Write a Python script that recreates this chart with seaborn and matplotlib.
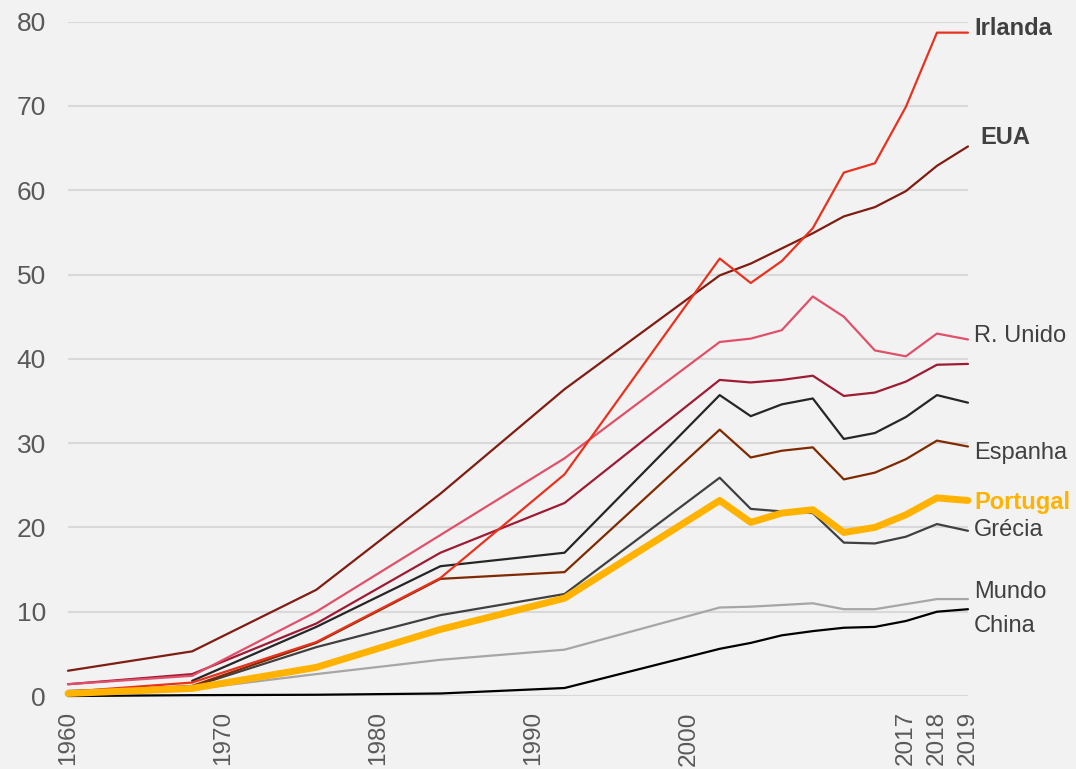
import matplotlib.pyplot as plt
import pandas as pd
import seaborn as sns

# Category axis: every 2 years up to 2012, then the last three years
axis_years = list(range(1960, 2001, 2)) + list(range(2002, 2013, 2)) + [2017, 2018, 2019]
tick_years = [1960, 1970, 1980, 1990, 2000, 2017, 2018, 2019]

# Years that carry data points
years = [1960, 1968, 1976, 1984, 1992, 2002, 2004, 2006, 2008, 2010, 2012, 2017, 2018, 2019]

irlanda = [0.5, 1.6, 6.4, 14.0, 26.3, 51.9, 49.0, 51.6, 55.5, 62.1, 63.2, 69.9, 78.7, 78.7]
eua = [3.0, 5.3, 12.6, 24.0, 36.4, 49.9, 51.3, 53.1, 54.9, 56.9, 58.0, 59.9, 62.9, 65.2]
r_unido = [1.4, 2.4, 10.0, 19.1, 28.2, 42.0, 42.4, 43.4, 47.4, 45.0, 41.0, 40.3, 43.0, 42.3]
pais_a = [1.4, 2.6, 8.6, 17.0, 22.9, 37.5, 37.2, 37.5, 38.0, 35.6, 36.0, 37.3, 39.3, 39.4]
pais_b = [None, 1.8, 8.2, 15.4, 17.0, 35.7, 33.2, 34.6, 35.3, 30.5, 31.2, 33.1, 35.7, 34.8]
espanha = [0.4, 1.2, 6.3, 13.9, 14.7, 31.6, 28.3, 29.1, 29.5, 25.7, 26.5, 28.1, 30.3, 29.6]
grecia = [0.6, 1.1, 5.8, 9.6, 12.1, 25.9, 22.2, 21.9, 21.7, 18.2, 18.1, 18.9, 20.4, 19.6]
mundo = [0.4, 0.8, 2.6, 4.3, 5.5, 10.5, 10.6, 10.8, 11.0, 10.3, 10.3, 10.9, 11.5, 11.5]
china = [0.0, 0.1, 0.15, 0.3, 0.95, 5.6, 6.3, 7.2, 7.7, 8.1, 8.2, 8.9, 10.0, 10.3]
portugal = [0.3, 0.9, 3.4, 7.9, 11.6, 23.2, 20.6, 21.7, 22.1, 19.4, 20.0, 21.5, 23.5, 23.2]

series = {
    'Mundo': mundo, 'China': china, 'Grécia': grecia, 'Espanha': espanha,
    'País B': pais_b, 'País A': pais_a, 'R. Unido': r_unido, 'EUA': eua,
    'Irlanda': irlanda, 'Portugal': portugal,
}
colors = {
    'Irlanda': '#E8321E', 'EUA': '#7F1D12', 'R. Unido': '#E0506A', 'País A': '#9E1B34',
    'País B': '#262626', 'Espanha': '#7F2A00', 'Portugal': '#FFB300', 'Grécia': '#404040',
    'Mundo': '#A6A6A6', 'China': '#000000',
}

df = pd.DataFrame(series, index=years)
df['slot'] = [axis_years.index(y) for y in years]

sns.set_style('white', {'axes.facecolor': '#F2F2F2', 'figure.facecolor': '#F2F2F2'})
plt.rcParams['font.family'] = ['Liberation Sans', 'DejaVu Sans']

fig, ax = plt.subplots(figsize=(10.76, 7.69), dpi=100)
fig.subplots_adjust(left=0.0632, right=0.8996, top=0.9718, bottom=0.0949)

for name in series:
    lw = 5 if name == 'Portugal' else 1.6
    sns.lineplot(x=df['slot'], y=df[name], ax=ax, color=colors[name],
                 linewidth=lw, zorder=3, clip_on=False)

# End labels (text, y position in data units, x position, bold, colour)
labels = [
    ('Irlanda', 79.2, 29.2, True, '#404040'),
    ('EUA', 66.3, 29.4, True, '#404040'),
    ('R. Unido', 42.7, 29.2, False, '#404040'),
    ('Espanha', 28.8, 29.2, False, '#404040'),
    ('Portugal', 23.0, 29.2, True, '#FFB300'),
    ('Grécia', 19.7, 29.2, False, '#404040'),
    ('Mundo', 12.3, 29.2, False, '#404040'),
    ('China', 8.3, 29.2, False, '#404040'),
]
for text, ypos, xpos, bold, col in labels:
    ax.text(xpos, ypos, text, ha='left', va='center', fontsize=17,
            fontweight='bold' if bold else 'normal', color=col, clip_on=False)

ax.set_xlim(0, len(axis_years) - 1)
ax.set_ylim(0, 80)
ax.set_yticks(range(0, 81, 10))
ax.set_xticks([axis_years.index(y) for y in tick_years])
ax.set_xticklabels([str(y) for y in tick_years], rotation=90)
ax.tick_params(axis='both', colors='#595959', length=0)
ax.tick_params(axis='y', labelsize=19, pad=16)
ax.tick_params(axis='x', labelsize=17.5, pad=11)
ax.grid(axis='y', color='#D9D9D9', linewidth=1.5)
ax.set_axisbelow(True)
ax.set_xlabel('')
ax.set_ylabel('')
sns.despine(ax=ax, left=True, bottom=True)

fig.savefig('out.png', dpi=100, facecolor='#F2F2F2')
